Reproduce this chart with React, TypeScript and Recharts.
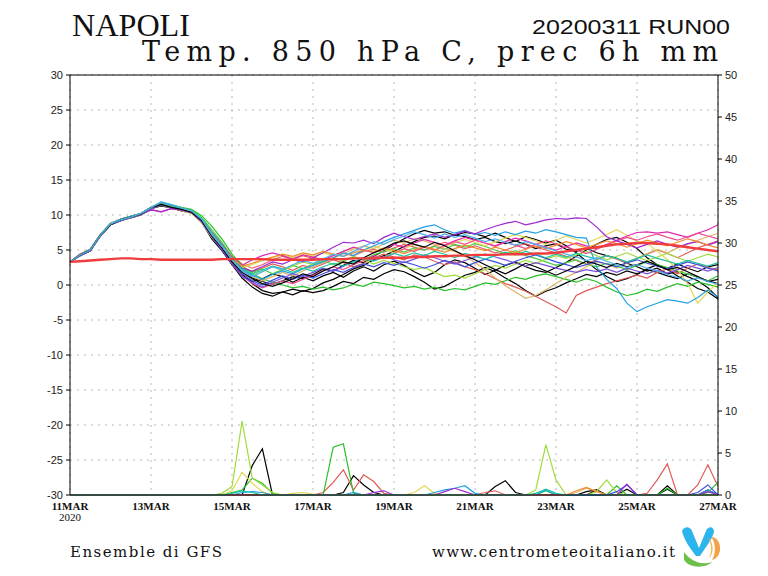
import React from "react";
import { ComposedChart, Line, XAxis, YAxis, CartesianGrid, ReferenceLine } from "recharts";

// time index: 6-hourly steps from 11MAR 00 (0) to 27MAR 00 (64)
const DATE_TICKS = [0, 8, 16, 24, 32, 40, 48, 56, 64];
const DATE_LABELS = ["11MAR", "13MAR", "15MAR", "17MAR", "19MAR", "21MAR", "23MAR", "25MAR", "27MAR"];
const TEMP_TICKS = [-30, -25, -20, -15, -10, -5, 0, 5, 10, 15, 20, 25, 30];
const PREC_TICKS = [0, 5, 10, 15, 20, 25, 30, 35, 40, 45, 50];

// 850 hPa temperature, ensemble members (C)
const T01 = [3.3,4.2,4.9,7.0,8.6,9.2,9.7,10.1,10.9,11.3,11.0,10.6,10.3,9.0,6.8,5.2,3.2,
  1.5,0.2,-0.8,-1.2,-1.0,-0.6,-0.9,-0.5, 0.3,0.8,1.5,2.3,2.8,3.6,4.2,4.8, 5.5,6.2,6.8,7.0,6.6,7.2,6.9,6.5,
  6.8,6.2,5.9,6.3,5.8,5.2,5.6,5.9, 5.1,4.8,5.3,4.6,4.2,3.8,3.1,2.6, 2.0,2.4,1.6,1.9,1.2,0.6,-0.4,-1.8];
const T02 = [3.3,4.4,5.1,7.2,8.8,9.4,9.8,10.2,11.0,11.5,11.1,10.7,10.4,9.1,6.9,5.0,2.9,
  1.0,-0.3,-1.2,-1.6,-1.0,-1.4,-0.8,-1.1, -0.8,-0.2,0.5,0.2,1.1,0.8,1.6,2.2, 1.9,1.2,0.4,-0.6,-0.2,0.6,1.4,1.8,
  2.5,1.9,1.0,0.2,-0.8,-1.6,-0.9,-0.4, 0.3,0.9,1.5,1.2,1.8,1.4,2.0,1.6, 2.2,1.8,1.3,0.9,1.6,1.1,0.6,0.2];
const T03 = [3.3,4.3,5.0,7.0,8.7,9.3,9.6,10.0,10.9,11.4,11.1,10.8,10.5,9.3,7.1,5.4,3.5,
  2.0,1.0,0.5,0.1,0.6,1.2,0.9,1.5, 2.3,2.0,2.8,3.5,3.2,4.1,4.9,5.8, 6.6,7.3,7.8,7.4,7.6,7.1,7.5,7.3,
  6.9,7.4,6.8,6.2,6.9,6.5,6.0,6.4, 5.6,4.6,3.4,2.2,1.2,0.5,0.9,1.5, 2.3,2.9,2.2,1.3,0.4,-0.5,-1.0,-2.0];
const T04 = [3.3,4.2,4.9,7.1,8.7,9.2,9.7,10.1,11.0,11.6,11.2,10.8,10.4,9.0,6.6,4.9,3.0,
  1.3,0.5,0.9,1.6,1.2,0.4,1.1,0.6, 1.3,1.8,1.1,2.0,2.6,2.0,2.9,3.4, 2.8,1.9,1.2,1.8,2.9,3.6,3.2,2.4,
  1.5,2.1,2.8,3.3,2.6,2.1,1.8,2.5, 3.2,4.1,5.0,5.8,6.5,6.8,6.1,5.2, 3.9,2.9,2.4,3.0,2.4,1.9,2.6,2.9];
const T05 = [3.3,4.3,5.1,7.2,8.8,9.3,9.7,10.1,11.0,11.5,11.2,10.9,10.6,9.4,7.4,5.7,3.9,
  2.6,1.9,2.4,3.0,2.6,2.1,2.8,2.4, 3.0,3.6,3.2,2.6,3.1,3.9,4.4,4.0, 3.6,4.3,4.0,3.4,2.9,3.3,2.6,2.2,
  1.6,0.9,0.2,-0.3,-0.9,-1.6,-2.4,-3.1, -4.0,-1.5,-0.8,-0.3,0.2,0.6,1.0,1.4, 1.0,1.8,2.3,1.6,2.4,3.0,2.5,2.2];
const T06 = [3.3,4.2,5.0,7.0,8.7,9.3,9.7,10.2,11.1,11.6,11.3,10.9,10.6,9.5,7.6,5.9,4.1,
  3.0,2.4,2.9,3.6,4.1,3.7,4.2,3.8, 3.4,3.9,4.5,4.2,4.8,5.1,4.7,5.3, 5.8,5.4,5.0,5.6,6.1,5.7,5.2,5.6,
  5.1,4.6,5.0,5.5,5.9,5.4,5.0,4.6, 4.1,3.5,3.0,3.6,4.2,3.7,3.2,3.8, 4.4,5.0,4.5,3.9,4.6,5.3,5.8,6.3];
const T07 = [3.3,4.3,5.0,7.1,8.8,9.4,9.8,10.2,11.1,11.8,11.5,11.1,10.8,9.9,8.4,6.6,4.4,
  2.8,1.6,0.9,0.4,0.0,-0.4,-0.2,-0.6, -0.3,-0.7,-0.4,0.1,-0.2,0.4,0.2,-0.1, -0.4,-0.2,-0.6,-0.3,-0.8,-0.5,-0.7,-0.2,
  0.3,0.1,0.6,1.1,0.8,1.3,1.6,1.2, 0.8,0.4,0.9,0.5,-0.3,-1.0,-1.5,-1.2, -0.6,-0.9,-0.3,0.2,-0.2,0.4,0.1,-0.3];
const T08 = [3.3,4.4,5.1,7.2,8.8,9.3,9.8,10.1,11.0,11.6,11.3,11.0,10.7,9.6,7.9,6.1,4.0,
  2.5,1.8,2.3,1.6,2.2,2.8,2.3,3.0, 3.5,2.9,3.4,4.0,3.6,4.3,4.8,5.2, 4.7,5.3,5.0,5.5,5.1,5.8,5.4,5.9,
  5.5,5.0,4.4,4.9,4.2,3.8,3.3,2.8, 3.2,3.6,3.0,2.6,3.1,2.7,2.2,2.8, 3.3,2.9,2.5,2.0,1.6,1.1,0.6,1.3];
const T09 = [3.3,4.2,5.0,7.0,8.6,9.2,9.6,10.0,10.9,11.4,11.0,10.7,10.4,9.2,7.4,5.5,3.6,
  2.1,1.4,1.9,2.6,2.1,2.7,3.3,2.9, 3.4,3.9,3.5,4.1,3.6,3.0,3.5,3.1, 2.6,2.2,2.5,1.8,1.2,1.4,1.0,1.6,
  2.2,2.8,2.4,3.0,3.5,3.1,3.7,4.2, 3.8,4.3,4.8,4.2,3.6,4.1,4.6,4.0, 3.5,4.0,4.5,3.9,3.4,3.9,4.4,4.0];
const T10 = [3.3,4.3,5.0,7.1,8.7,9.3,9.7,10.1,11.0,11.6,11.2,10.8,10.4,9.2,7.2,5.3,3.4,
  1.9,1.2,0.6,1.2,1.8,1.3,2.0,2.6, 3.2,3.8,4.5,5.1,5.6,5.2,5.9,6.4, 6.0,6.6,6.3,5.8,5.2,4.8,4.1,3.2,
  2.2,1.0,-0.1,-1.0,-1.9,-1.5,-0.7,0.2, 1.1,1.8,2.6,3.3,3.0,2.4,3.1,3.8, 4.5,5.1,4.6,5.3,5.8,6.4,6.9,7.4];
const T11 = [3.3,4.3,5.1,7.2,8.8,9.4,9.8,10.2,11.0,11.5,11.1,10.6,10.2,8.9,6.8,5.2,3.5,
  2.5,2.9,3.5,3.9,4.3,3.9,4.5,4.1, 4.6,4.2,4.8,5.3,4.9,5.5,5.1,4.6, 5.2,5.8,5.4,4.9,5.5,6.0,6.5,6.1,
  5.6,6.2,6.7,7.2,6.8,6.3,5.8,6.4, 7.0,6.5,6.0,6.6,7.2,7.9,7.1,6.2, 6.0,4.8,3.6,2.2,0.2,-2.6,-1.0,0.4];
const T12 = [3.3,4.3,5.0,7.1,8.7,9.4,9.8,10.2,11.1,11.8,11.4,11.0,10.6,9.4,7.3,5.6,3.7,
  2.2,1.4,0.8,1.5,2.0,1.6,2.3,2.8, 3.3,3.9,4.6,4.2,5.0,5.6,6.2,6.8, 7.3,7.8,8.3,8.6,7.9,7.4,7.8,7.2,
  7.5,7.1,7.6,7.2,7.7,7.4,7.9,7.6, 7.2,6.8,6.7,2.6,0.8,-0.5,-2.6,-3.8, -3.1,-2.6,-2.1,-2.3,-2.6,-1.8,-0.7,-1.7];
const T13 = [3.3,4.2,4.9,7.0,8.6,9.2,9.7,10.1,11.0,11.5,11.2,10.8,10.5,9.2,7.1,5.4,3.3,
  1.6,0.6,0.0,0.7,1.3,0.8,1.4,1.0, 1.6,2.2,1.8,2.5,3.0,2.6,3.2,2.8, 3.3,2.9,2.4,2.9,3.5,3.1,2.6,3.2,
  3.7,3.3,2.8,3.4,3.9,4.3,3.8,3.3, 2.9,2.5,2.9,3.4,3.0,2.6,3.2,3.6, 3.1,2.7,2.3,2.8,3.3,2.9,2.4,2.0];
const T14 = [3.3,4.3,5.0,7.1,8.7,9.3,9.7,10.1,10.8,10.4,10.9,10.7,10.5,9.4,7.5,5.8,3.9,
  2.8,3.6,4.2,4.6,4.2,3.7,4.3,4.0, 3.6,4.2,4.8,5.4,5.0,4.6,5.2,5.8, 5.4,6.0,6.5,6.1,5.7,6.3,6.8,6.4,
  6.0,5.6,6.2,6.7,6.3,5.8,5.4,5.0, 5.5,6.0,5.6,5.2,5.8,6.4,7.0,7.5, 7.6,7.4,7.6,7.2,6.8,7.4,7.9,8.6];
const T15 = [3.3,4.4,5.1,7.2,8.8,9.4,9.8,10.2,11.0,11.5,11.1,10.7,10.4,9.1,7.0,5.1,3.0,
  1.3,0.2,-0.4,0.1,0.6,0.2,0.8,1.4, 2.0,2.6,2.2,2.9,3.5,4.2,3.8,4.5, 5.2,4.8,5.4,5.0,5.6,6.2,5.8,6.4,
  6.0,5.5,6.1,5.7,5.2,5.8,6.3,5.9, 5.4,5.0,4.5,5.1,5.7,6.3,6.8,6.4, 6.9,7.3,6.8,6.4,6.9,7.4,7.0,6.6];
const T16 = [3.3,4.3,5.0,7.1,8.7,9.3,9.7,10.1,10.7,10.5,10.9,10.8,10.5,9.3,7.3,5.5,3.6,
  2.4,2.0,2.6,3.3,3.0,3.6,3.3,3.9, 4.6,5.4,6.1,6.0,6.4,5.9,6.8,7.4, 6.9,6.5,6.9,7.3,6.8,7.2,7.7,7.3,
  7.9,8.4,8.8,9.1,8.6,8.9,9.3,9.5, 9.4,9.6,9.5,8.3,6.9,6.3,5.8,5.3, 5.8,6.3,5.8,5.4,5.9,6.2,5.7,6.2];
const T17 = [3.3,4.2,4.9,7.0,8.6,9.2,9.6,10.0,10.9,11.4,11.1,10.7,10.3,9.0,6.9,5.0,3.1,
  1.2,0.4,-0.3,0.4,1.0,1.6,1.2,1.8, 2.4,2.0,2.7,3.3,3.9,3.5,4.1,3.6, 3.2,3.7,4.3,3.9,3.4,3.0,3.5,4.0,
  4.4,4.0,3.6,3.1,2.7,3.2,2.8,2.4, 2.1,1.8,2.2,1.9,2.3,1.8,2.4,2.0, 1.6,2.1,1.7,2.2,2.8,2.4,2.0,2.5];
const T18 = [3.3,4.3,5.0,7.1,8.7,9.3,9.7,10.1,11.0,11.6,11.2,10.8,10.5,9.3,7.3,5.6,3.8,
  2.7,3.1,3.6,4.0,4.4,4.1,4.6,4.3, 4.8,4.4,4.1,4.6,5.0,4.7,5.3,4.9, 4.5,5.0,5.5,5.1,4.7,5.2,5.7,5.3,
  4.9,5.4,5.0,4.6,5.1,5.6,5.2,5.7, 6.2,5.8,5.3,5.8,6.3,5.9,5.4,5.9, 6.4,6.0,5.6,6.1,6.6,6.2,5.7,5.3];
const T19 = [3.3,4.3,5.1,7.2,8.8,9.4,9.8,10.2,11.1,11.6,11.2,10.9,10.6,9.5,7.5,5.7,3.7,
  2.3,1.6,2.1,2.7,2.3,1.8,2.4,2.0, 2.6,3.1,2.7,3.3,3.8,3.4,4.0,4.5, 4.1,4.6,4.2,4.8,4.4,3.9,4.5,4.1,
  3.7,4.2,4.7,4.3,4.8,4.4,3.9,4.4, 4.0,4.5,4.1,3.7,4.2,3.8,3.3,3.8, 4.3,3.8,3.4,3.0,3.5,3.1,2.7,3.2];
const T20 = [3.3,4.3,5.0,7.1,8.6,9.3,9.7,10.1,11.0,11.5,11.1,10.8,10.4,9.2,7.0,5.3,3.3,
  1.8,0.9,0.2,-0.2,0.3,0.9,1.6,1.2, 2.0,2.6,3.3,3.0,3.9,4.6,5.2,6.0, 6.3,5.8,5.4,6.1,5.6,4.9,4.2,3.6,
  2.9,2.2,1.6,2.3,3.1,2.6,2.0,1.4, 2.0,2.7,3.4,3.0,2.5,3.1,2.6,2.9, 3.4,2.8,2.2,2.5,1.9,1.2,0.5,0.8];
const T21 = [3.3,4.3,5.0,7.1,8.7,9.3,9.7,10.2,11.0,11.9,11.5,11.0,10.6,9.4,7.2,5.5,3.6,
  2.0,1.2,1.9,2.6,2.2,2.9,3.5,3.1, 3.7,4.4,4.1,4.8,5.5,6.2,5.8,6.5, 7.0,7.6,7.2,6.7,7.3,6.8,7.2,6.7,
  6.2,6.6,6.1,5.7,6.2,5.8,5.3,4.9, 4.4,4.0,3.5,3.9,3.4,2.9,2.5,2.9, 2.4,2.0,1.5,1.1,0.6,1.0,0.5,0.1];

// climatology (thick red)
const CLIM = [3.3,3.4,3.5,3.6,3.7,3.8,3.8,3.7,3.7,3.6,3.6,3.6,3.6,3.6,3.6,3.7,3.7,
  3.7,3.7,3.7,3.6,3.6,3.6,3.6,3.6, 3.7,3.7,3.7,3.8,3.8,3.8,3.9,3.9, 3.9,4.0,4.0,4.1,4.1,4.2,4.2,4.3,
  4.3,4.3,4.4,4.4,4.4,4.5,4.5,4.6, 4.8,5.0,5.2,5.4,5.6,5.8,5.9,6.0, 6.0,5.9,5.8,5.6,5.4,5.2,5.0,4.8];

// 6h precipitation (mm), members with rain
const P01 = [0,0,0,0,0,0,0,0, 0,0,0,0,0,0,0,0, 0,0,3.5,5.5,0,0,0,0, 0,0,0,0,0,0,0,0,
  0,0,0,0,0,0,0,0, 0,0,1.0,1.7,0.3,0,0,0, 0,0,0,0,0.6,0,0,0, 0,0,0,1.1,0,0,0,0.6, 0];
const P03 = [0,0,0,0,0,0,0,0, 0,0,0,0,0,0,0,0, 0,0,0,0,0,0,0,0, 0,0,0,0.3,2.3,1.2,0.3,0,
  0,0,0,0,0,0,0,0, 0,0,0,0,0,0,0,0, 0,0,0,0,0,0,0,0.7, 0,0,0,0,0,0,0,0, 0];
const P04 = [0,0,0,0,0,0,0,0, 0,0,0,0,0,0,0,0, 0,0,0,0,0,0,0,0, 0,0,0,0,0,0,0,0,
  0,0,0,0,0,0,0,0, 0,0,0,0,0,0,0,0, 0,0,0,0.4,0.6,0,0,0, 0,0,0,0.7,0,0,0,0, 0];
const P05 = [0,0,0,0,0,0,0,0, 0,0,0,0,0,0,0,0, 0,0,0,0,0,0,0,0, 0,0.3,1.5,3.0,0.6,2.4,1.6,0.2,
  0,0,0,0,0,0,0,0, 0,0,0,0,0,0,0,0, 0,0,0,0,0,0,0,0, 0,0.2,1.8,3.7,0,0,1.2,3.6, 1.0];
const P06 = [0,0,0,0,0,0,0,0, 0,0,0,0,0,0,0,0, 0,0,0,0,0,0,0,0, 0,0,0,0,0,0,0,0,
  0,0,0,0,0,0,0,0, 0,0.3,0.5,0,0,0,0,0, 0,0,0,0,0,0,0,0, 0,0,0,0,0,0,0,0, 0];
const P07 = [0,0,0,0,0,0,0,0, 0,0,0,0,0,0,0,0, 0.3,0.6,2.0,1.4,0.2,0,0,0, 0,0,5.7,6.1,0.2,0,0,0,
  0,0,0,0,0,0,0,0, 0,0,0,0,0,0,0,0.5, 0,0,0,0,0,0,1.1,0, 0,0,0,0.8,0,0,0,0.3, 1.5];
const P09 = [0,0,0,0,0,0,0,0, 0,0,0,0,0,0,0,0.2, 1.0,8.8,2.0,1.2,0.3,0,0,0, 0,0,0,0,0,0,0,0,
  0,0,0,0,0,0,0,0, 0,0,0,0,0,0,0.6,6.0, 1.8,0,0,0,0.4,1.8,0.3,0, 0,0,0,0,0,0,0,0, 0];
const P10 = [0,0,0,0,0,0,0,0, 0,0,0,0,0,0,0,0, 0,0,0,0,0,0,0,0, 0,0,0,0,0,0,0,0,
  0,0,0,0,0,0,0,0, 0,0,0,0,0,0,0,0, 0,0,0.3,0.8,0.5,0,0,0, 0,0,0,0,0,0,0,0, 0];
const P11 = [0,0,0,0,0,0,0,0, 0,0,0,0,0,0,0,0, 0.5,2.7,1.4,0.4,0,0,0.2,0.3, 0.1,0,0,0,0,0,0,0,
  0,0,0.3,1.1,0.2,0,0,0, 0,0,0,0,0,0,0,0, 0,0,0,0,0,0,0,0, 0,0,0,0,0,0,0,0, 0];
const P12 = [0,0,0,0,0,0,0,0, 0,0,0,0,0,0,0,0, 0,0.3,0.4,0.3,0,0,0,0, 0,0,0,0,0.3,0,0,0,
  0,0,0,0,0.3,0.6,0.8,1.1, 0.2,0,0,0,0,0,0,0.6, 0,0,0,0,0,0,0,0, 0,0,0,0,0,0,0,0.6, 0];
const P13 = [0,0,0,0,0,0,0,0, 0,0,0,0,0,0,0,0, 0,0,0,0,0,0,0,0, 0,0,0,0,0,0,0,0,
  0,0,0,0,0,0,0,0, 0,0,0,0,0,0,0,0, 0,0,0,0,0,0,0.4,1.2, 0,0,0,0,0,0,0.3,1.2, 0];
const P16 = [0,0,0,0,0,0,0,0, 0,0,0,0,0,0,0,0, 0,0,0,0,0,0,0,0, 0,0,0,0,0,0,0.3,0.5,
  0,0,0,0,0,0.4,0.8,0.4, 0,0,0,0,0,0,0,0, 0,0,0,0,0,0,0,1.3, 0,0,0,0,0,0,0,0.4, 0];
const P18 = [0,0,0,0,0,0,0,0, 0,0,0,0,0,0,0,0, 0,0,0,0,0,0,0,0, 0,0,0,0,0,0,0,0,
  0,0,0,0,0,0,0,0, 0,0,0,0,0,0,0,0, 0,0,0.5,0.9,0.4,0,0,0, 0,0,0,0,0,0,0,0, 0];
const P19 = [0,0,0,0,0,0,0,0, 0,0,0,0,0,0,0,0, 0.2,0.5,0.3,0,0,0,0,0, 0,0,0,0,0,0,0,0,
  0,0,0,0,0,0,0,0, 0,0,0,0,0,0,0.2,0.7, 0.2,0,0,0,0,0,0,0, 0,0,0,0,0,0,0,0, 0];

const MEMBERS = [
  { id: "m01", color: "#000000", temp: T01, prec: P01 },
  { id: "m02", color: "#000000", temp: T02, prec: null },
  { id: "m03", color: "#000000", temp: T03, prec: P03 },
  { id: "m04", color: "#000000", temp: T04, prec: P04 },
  { id: "m05", color: "#e05a55", temp: T05, prec: P05 },
  { id: "m06", color: "#e86060", temp: T06, prec: P06 },
  { id: "m07", color: "#28c028", temp: T07, prec: P07 },
  { id: "m08", color: "#48cc48", temp: T08, prec: null },
  { id: "m09", color: "#a0dc3c", temp: T09, prec: P09 },
  { id: "m10", color: "#dcb464", temp: T10, prec: P10 },
  { id: "m11", color: "#e2d858", temp: T11, prec: P11 },
  { id: "m12", color: "#22a0e2", temp: T12, prec: P12 },
  { id: "m13", color: "#3c50e0", temp: T13, prec: P13 },
  { id: "m14", color: "#e028b0", temp: T14, prec: null },
  { id: "m15", color: "#ee4c8c", temp: T15, prec: null },
  { id: "m16", color: "#a028d0", temp: T16, prec: P16 },
  { id: "m17", color: "#7a4edc", temp: T17, prec: null },
  { id: "m18", color: "#f08c2c", temp: T18, prec: P18 },
  { id: "m19", color: "#20c4a0", temp: T19, prec: P19 },
  { id: "m20", color: "#000000", temp: T20, prec: null },
  { id: "m21", color: "#4cb0ee", temp: T21, prec: null },
];

const data = CLIM.map((c, i) => {
  const row: Record<string, number> = { t: i, clim: c };
  MEMBERS.forEach((m) => {
    row["t_" + m.id] = m.temp[i];
    if (m.prec) row["p_" + m.id] = m.prec[i];
  });
  return row;
});

const DateTick = (props: any) => {
  const { x, y, payload } = props;
  const idx = DATE_TICKS.indexOf(payload.value);
  return (
    <g>
      <text x={x} y={y + 15} textAnchor="middle" fontFamily="Liberation Serif" fontWeight="bold" fontSize={11} fill="#111">
        {DATE_LABELS[idx]}
      </text>
      {idx === 0 && (
        <text x={x} y={y + 26} textAnchor="middle" fontFamily="Liberation Serif" fontSize={11} fill="#111">
          2020
        </text>
      )}
    </g>
  );
};

export default function App() {
  return (
    <div style={{ position: "absolute", left: 0, top: 0, width: 768, height: 576, background: "#fff" }}>
      <ComposedChart width={768} height={576} data={data} margin={{ top: 75, right: 10, left: 30, bottom: 51 }}>
        <CartesianGrid yAxisId="left" stroke="#b8b8b8" strokeDasharray="2 5" />
        <XAxis
          dataKey="t"
          type="number"
          domain={[0, 64]}
          ticks={DATE_TICKS}
          height={30}
          tick={<DateTick />}
          tickLine={false}
          tickSize={0}
          tickMargin={0}
          stroke="#000"
          interval={0}
        />
        <YAxis
          yAxisId="left"
          domain={[-30, 30]}
          ticks={TEMP_TICKS}
          width={40}
          tickSize={4}
          tickMargin={3}
          stroke="#000"
          interval={0}
          tick={{ fontSize: 11, fontFamily: "Liberation Sans", fill: "#222" }}
        />
        <YAxis
          yAxisId="right"
          orientation="right"
          domain={[0, 50]}
          ticks={PREC_TICKS}
          width={40}
          tickSize={4}
          tickMargin={3}
          stroke="#000"
          interval={0}
          tick={{ fontSize: 11, fontFamily: "Liberation Sans", fill: "#222" }}
        />
        <ReferenceLine yAxisId="left" y={30} stroke="#000" strokeWidth={1.2} />
        {MEMBERS.map((m) => (
          <Line key={"t" + m.id} yAxisId="left" dataKey={"t_" + m.id} stroke={m.color} strokeWidth={1.2}
            dot={false} isAnimationActive={false} type="linear" />
        ))}
        <Line yAxisId="left" dataKey="clim" stroke="#f03c3c" strokeWidth={2.4} dot={false} isAnimationActive={false} type="linear" />
        {MEMBERS.filter((m) => m.prec).map((m) => (
          <Line key={"p" + m.id} yAxisId="right" dataKey={"p_" + m.id} stroke={m.color} strokeWidth={1.2}
            dot={false} isAnimationActive={false} type="linear" />
        ))}
      </ComposedChart>
      <svg width={768} height={576} style={{ position: "absolute", left: 0, top: 0, pointerEvents: "none" }}>
        <text x={72} y={36} fontFamily="Liberation Serif" fontSize={31} textLength={118} lengthAdjust="spacingAndGlyphs" fill="#111">NAPOLI</text>
        <text x={532} y={34} fontFamily="Liberation Sans" fontSize={21} textLength={198} lengthAdjust="spacingAndGlyphs" fill="#111">20200311 RUN00</text>
        <text x={142} y={61} fontFamily="DejaVu Serif" fontSize={27} textLength={576} lengthAdjust="spacing" fill="#111">Temp. 850 hPa C, prec 6h mm</text>
        <text x={70} y={557} fontFamily="DejaVu Serif" fontSize={15} textLength={152} lengthAdjust="spacing" fill="#111">Ensemble di GFS</text>
        <text x={432} y={557} fontFamily="DejaVu Serif" fontSize={15} textLength={243} lengthAdjust="spacing" fill="#111">www.centrometeoitaliano.it</text>
        <g>
          <path d="M682 531 C684 526 690 526 692 531 L699 548 L706 531 C708 526 714 526 714 532 C712 540 705 548 700 556 L696 556 C690 548 684 540 682 531 Z" fill="#2cb4ec" />
          <path d="M711 537 C722 537 724 557 712 560 C716 554 716 542 711 537 Z" fill="#f3a24a" />
          <path d="M708 538 C714 542 714 554 709 558 C712 552 712 544 708 538 Z" fill="#f5b35a" />
          <path d="M684 552 C690 560 700 566 712 562 C706 568 690 569 684 560 Z" fill="#6cc04a" />
        </g>
      </svg>
    </div>
  );
}
